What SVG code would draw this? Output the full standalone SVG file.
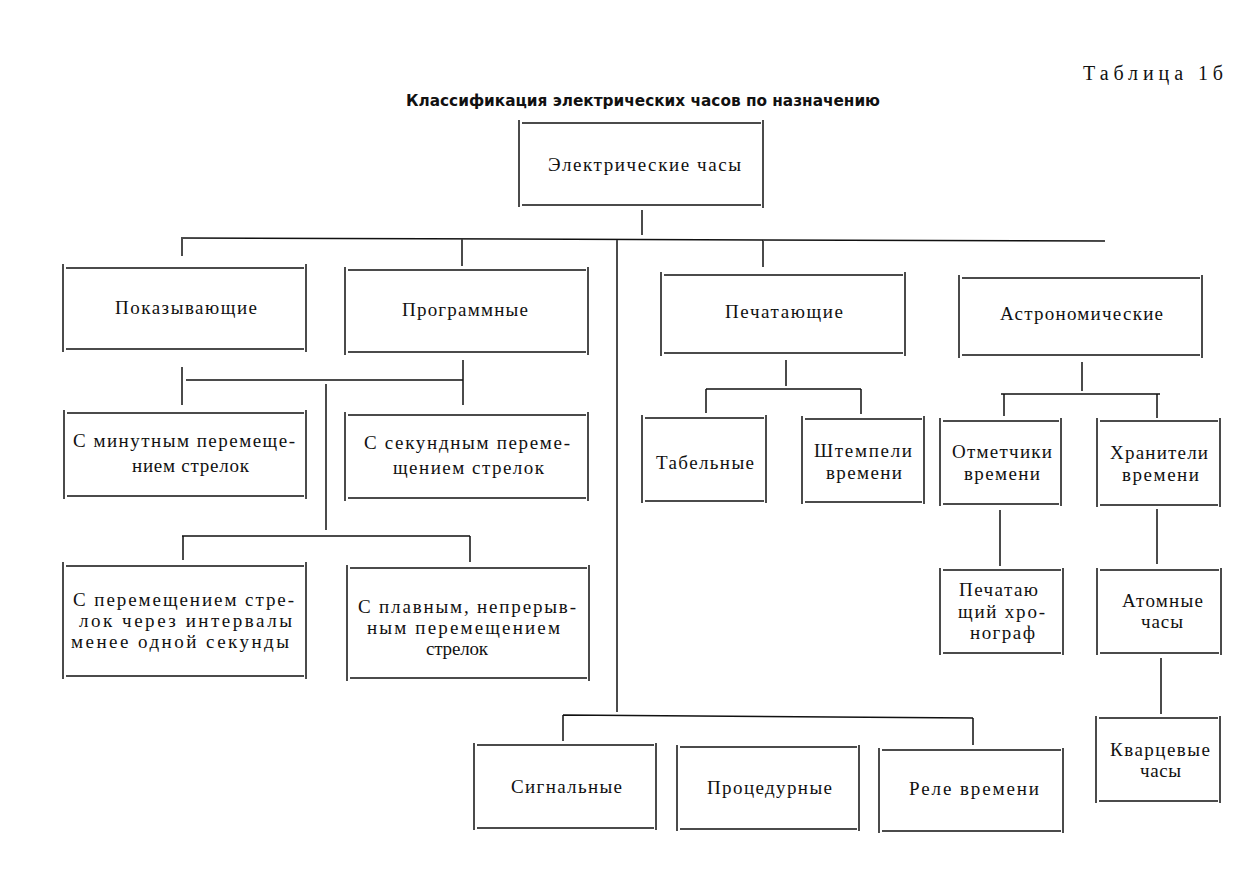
<svg xmlns="http://www.w3.org/2000/svg" width="1249" height="875" viewBox="0 0 1249 875">
<style>
.bx{fill:none;stroke:#111;stroke-width:1.5}
.ln{fill:none;stroke:#111;stroke-width:1.5}
.t{font-family:"Liberation Serif","DejaVu Serif",serif;font-size:19px;fill:#111}
.ttl{font-family:"DejaVu Sans Condensed","Liberation Sans",sans-serif;font-weight:bold;font-size:16px;fill:#111}
.tab{font-family:"Liberation Serif",serif;font-size:20px;fill:#111}
</style>
<rect width="1249" height="875" fill="#fff"/>
<text class="tab" x="1083" y="80" textLength="140" lengthAdjust="spacing">Таблица 1б</text>
<text class="ttl" x="406" y="106" textLength="474" lengthAdjust="spacingAndGlyphs">Классификация электрических часов по назначению</text>

<g id="connectors">
<path class="ln" d="M642 210V235 M181 238L1105 241 M182 238V256 M462 239V266 M617 240V712 M763 240V267"/>
<path class="ln" d="M182 367V405 M463 360V405 M186 380H463 M326 384V530 M182 536H470 M183 536V560 M470 536V562"/>
<path class="ln" d="M786 360V386 M706 389H861 M706 389V413 M861 389V414"/>
<path class="ln" d="M1082 362V391 M1001 394H1160 M1004 394V416 M1157 394V418"/>
<path class="ln" d="M1000 510V566 M1157 509V564 M1161 658V714"/>
<path class="ln" d="M563 715L973 718 M563 715V741 M973 718V745"/>
</g>

<g id="root"><path class="bx" d="M519 120V207 M763 120V208 M522 123H761 M522 205H761"/><text class="t" x="548" y="171" textLength="193" lengthAdjust="spacing">Электрические часы</text></g>

<g id="pokaz"><path class="bx" d="M63 264V352 M306 264V352 M66 268H304 M66 349H304"/><text class="t" x="115" y="314" textLength="142" lengthAdjust="spacing">Показывающие</text></g>
<g id="progr"><path class="bx" d="M345 267V355 M588 267V355 M348 270H586 M348 352H586"/><text class="t" x="402" y="316" textLength="126" lengthAdjust="spacing">Программные</text></g>
<g id="pechat"><path class="bx" d="M661 272V356 M905 272V356 M664 275H903 M664 353H903"/><text class="t" x="725" y="318" textLength="118" lengthAdjust="spacing">Печатающие</text></g>
<g id="astro"><path class="bx" d="M959 275V358 M1202 275V358 M962 278H1200 M962 355H1200"/><text class="t" x="1000" y="320" textLength="163" lengthAdjust="spacing">Астрономические</text></g>

<g id="minut"><path class="bx" d="M64 410V499 M306 410V499 M67 413H304 M67 496H304"/><text class="t" x="73" y="447" textLength="222" lengthAdjust="spacing">С минутным перемеще-</text><text class="t" x="132" y="472" textLength="117" lengthAdjust="spacing">нием стрелок</text></g>
<g id="sekund"><path class="bx" d="M345 412V501 M588 412V501 M348 415H586 M348 498H586"/><text class="t" x="364" y="449" textLength="206" lengthAdjust="spacing">С секундным переме-</text><text class="t" x="393" y="474" textLength="151" lengthAdjust="spacing">щением стрелок</text></g>

<g id="interval"><path class="bx" d="M63 562V679 M306 562V679 M66 566H304 M66 676H304"/><text class="t" x="73" y="606" textLength="221" lengthAdjust="spacing">С перемещением стре-</text><text class="t" x="79" y="627" textLength="213" lengthAdjust="spacing">лок через интервалы</text><text class="t" x="71" y="648" textLength="218" lengthAdjust="spacing">менее одной секунды</text></g>
<g id="plavn"><path class="bx" d="M347 565V681 M589 565V681 M350 568H587 M350 678H587"/><text class="t" x="358" y="613" textLength="218" lengthAdjust="spacing">С плавным, непрерыв-</text><text class="t" x="367" y="634" textLength="193" lengthAdjust="spacing">ным перемещением</text><text class="t" x="426" y="655" textLength="62" lengthAdjust="spacing">стрелок</text></g>

<g id="tabel"><path class="bx" d="M642 415V503 M766 415V503 M645 418H764 M645 501H764"/><text class="t" x="656" y="469" textLength="98" lengthAdjust="spacing">Табельные</text></g>
<g id="shtemp"><path class="bx" d="M802 416V504 M924 416V504 M805 419H922 M805 502H922"/><text class="t" x="814" y="457" textLength="98" lengthAdjust="spacing">Штемпели</text><text class="t" x="826" y="479" textLength="76" lengthAdjust="spacing">времени</text></g>
<g id="otmet"><path class="bx" d="M940 418V506 M1061 418V506 M943 421H1059 M943 504H1059"/><text class="t" x="952" y="458" textLength="100" lengthAdjust="spacing">Отметчики</text><text class="t" x="964" y="480" textLength="76" lengthAdjust="spacing">времени</text></g>
<g id="hranit"><path class="bx" d="M1097 418V507 M1220 418V507 M1100 421H1218 M1100 505H1218"/><text class="t" x="1110" y="459" textLength="98" lengthAdjust="spacing">Хранители</text><text class="t" x="1122" y="481" textLength="77" lengthAdjust="spacing">времени</text></g>

<g id="chrono"><path class="bx" d="M940 568V655 M1063 568V655 M943 570H1061 M943 653H1061"/><text class="t" x="959" y="596" textLength="79" lengthAdjust="spacing">Печатаю</text><text class="t" x="958" y="618" textLength="87" lengthAdjust="spacing">щий хро-</text><text class="t" x="970" y="639" textLength="65" lengthAdjust="spacing">нограф</text></g>
<g id="atom"><path class="bx" d="M1097 568V655 M1221 568V655 M1100 570H1219 M1100 653H1219"/><text class="t" x="1122" y="607" textLength="81" lengthAdjust="spacing">Атомные</text><text class="t" x="1141" y="628" textLength="42" lengthAdjust="spacing">часы</text></g>
<g id="kvarc"><path class="bx" d="M1096 716V803 M1220 716V803 M1099 718H1218 M1099 801H1218"/><text class="t" x="1110" y="756" textLength="100" lengthAdjust="spacing">Кварцевые</text><text class="t" x="1140" y="777" textLength="41" lengthAdjust="spacing">часы</text></g>

<g id="signal"><path class="bx" d="M474 743V830 M656 743V830 M477 745H654 M477 828H654"/><text class="t" x="511" y="793" textLength="111" lengthAdjust="spacing">Сигнальные</text></g>
<g id="proced"><path class="bx" d="M677 745V831 M859 745V831 M680 747H857 M680 829H857"/><text class="t" x="707" y="794" textLength="125" lengthAdjust="spacing">Процедурные</text></g>
<g id="rele"><path class="bx" d="M879 748V833 M1063 748V833 M882 750H1061 M882 831H1061"/><text class="t" x="909" y="795" textLength="130" lengthAdjust="spacing">Реле времени</text></g>
</svg>
